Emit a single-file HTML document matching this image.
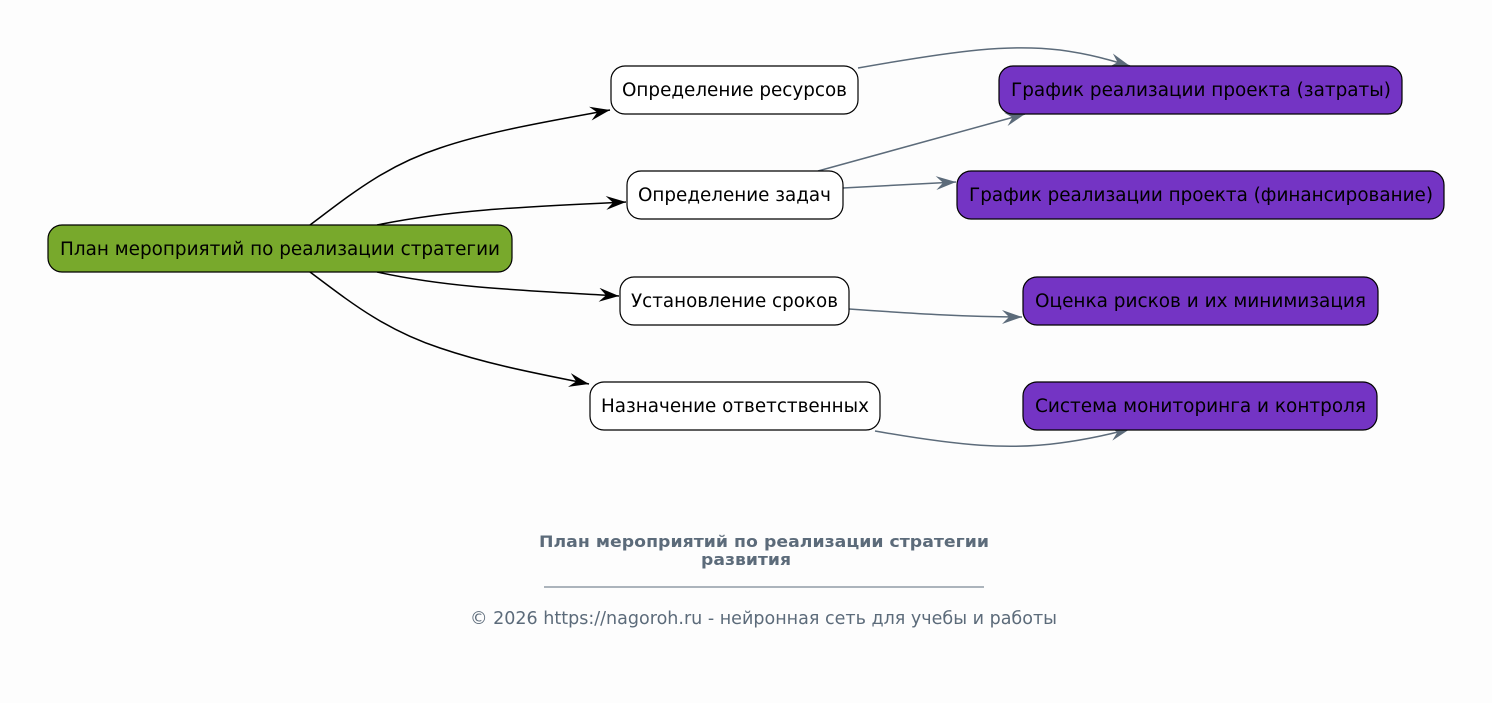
<!DOCTYPE html>
<html><head><meta charset="utf-8"><style>
html,body{margin:0;padding:0;background:#fdfdfd;}
svg{display:block;}
text{font-family:"DejaVu Sans","Liberation Sans",sans-serif;}
</style></head><body>
<svg width="1492" height="703" viewBox="0 0 1492 703" xmlns="http://www.w3.org/2000/svg">
<defs>
<marker id="ab" markerUnits="userSpaceOnUse" markerWidth="24" markerHeight="16" refX="20" refY="7" orient="auto">
<path d="M0,0 L20,7 L0,14 L7,7 z" fill="#000"/>
</marker>
<marker id="ag" markerUnits="userSpaceOnUse" markerWidth="24" markerHeight="16" refX="20" refY="7" orient="auto">
<path d="M0,0 L20,7 L0,14 L7,7 z" fill="#5c6b7a"/>
</marker>
</defs>
<rect width="1492" height="703" fill="#fdfdfd"/>
<g fill="none" stroke="#000" stroke-width="1.5">
<path d="M310,225 C350,195 385,166 440,148 C490,131 550,121 610,110" marker-end="url(#ab)"/>
<path d="M377,225 C450,210 520,207 626,202" marker-end="url(#ab)"/>
<path d="M377,272 C450,288 520,290 619,296" marker-end="url(#ab)"/>
<path d="M310,272 C350,302 385,330 440,348 C490,365 540,374 589,384" marker-end="url(#ab)"/>
</g>
<g fill="none" stroke="#5c6b7a" stroke-width="1.5">
<path d="M858,68 C960,50 1010,44 1060,50 C1090,54 1110,60 1130,66" marker-end="url(#ag)"/>
<path d="M818,171 L1025,114" marker-end="url(#ag)"/>
<path d="M843,188 L956,182" marker-end="url(#ag)"/>
<path d="M849,309 C920,314 970,317 1022,317" marker-end="url(#ag)"/>
<path d="M875,431 C960,446 1010,450 1060,443 C1090,439 1110,434 1130,429" marker-end="url(#ag)"/>
</g>
<g stroke="#000" stroke-width="1.2">
<rect x="48" y="225" width="464" height="47" rx="14" fill="#78a92c"/>
<rect x="611" y="66" width="247" height="48" rx="14" fill="#fff"/>
<rect x="627" y="171" width="216" height="48" rx="14" fill="#fff"/>
<rect x="620" y="277" width="229" height="48" rx="14" fill="#fff"/>
<rect x="590" y="382" width="290" height="48" rx="14" fill="#fff"/>
<rect x="999" y="66" width="403" height="48" rx="14" fill="#7434c4"/>
<rect x="957" y="171" width="487" height="48" rx="14" fill="#7434c4"/>
<rect x="1023" y="277" width="355" height="48" rx="14" fill="#7434c4"/>
<rect x="1023" y="382" width="354" height="48" rx="14" fill="#7434c4"/>
</g>
<g style="font-size:18.5px" fill="#000" text-anchor="middle">
<text x="280" y="255" textLength="440" lengthAdjust="spacingAndGlyphs">План мероприятий по реализации стратегии</text>
<text x="734.5" y="96" textLength="225" lengthAdjust="spacingAndGlyphs">Определение ресурсов</text>
<text x="734.5" y="201" textLength="193" lengthAdjust="spacingAndGlyphs">Определение задач</text>
<text x="734.5" y="307" textLength="207" lengthAdjust="spacingAndGlyphs">Установление сроков</text>
<text x="735" y="412" textLength="268" lengthAdjust="spacingAndGlyphs">Назначение ответственных</text>
<text x="1201" y="96" textLength="380" lengthAdjust="spacingAndGlyphs">График реализации проекта (затраты)</text>
<text x="1201" y="201" textLength="464" lengthAdjust="spacingAndGlyphs">График реализации проекта (финансирование)</text>
<text x="1200.5" y="307" textLength="331" lengthAdjust="spacingAndGlyphs">Оценка рисков и их минимизация</text>
<text x="1200.5" y="412" textLength="331" lengthAdjust="spacingAndGlyphs">Система мониторинга и контроля</text>
</g>
<g fill="#5c6b7a" text-anchor="middle">
<text x="764" y="547" style="font-size:16px;font-weight:bold" textLength="450" lengthAdjust="spacingAndGlyphs">План мероприятий по реализации стратегии</text>
<text x="746" y="565" style="font-size:16px;font-weight:bold" textLength="90" lengthAdjust="spacingAndGlyphs">развития</text>
<line x1="544" y1="587" x2="984" y2="587" stroke="#5c6b7a" stroke-width="1"/>
<text x="763.5" y="624" style="font-size:17.5px" textLength="587" lengthAdjust="spacingAndGlyphs">© 2026 https://nagoroh.ru - нейронная сеть для учебы и работы</text>
</g>
</svg>
</body></html>
